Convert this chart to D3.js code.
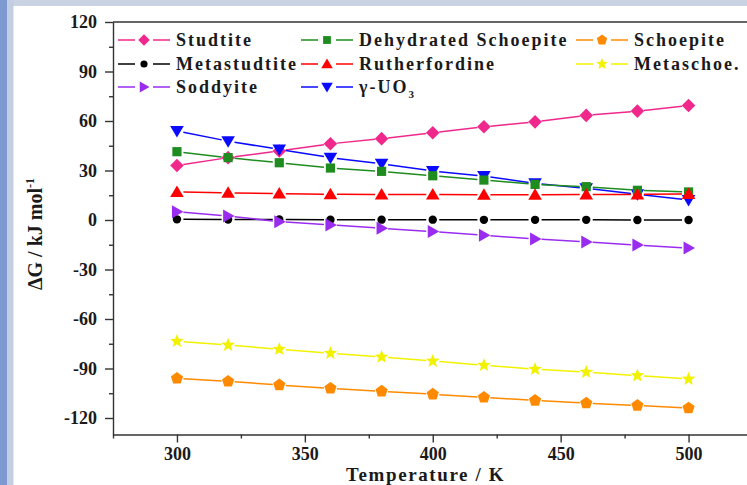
<!DOCTYPE html>
<html>
<head>
<meta charset="utf-8">
<script src="https://cdn.jsdelivr.net/npm/d3@7"></script>
<style>
  html, body { margin: 0; padding: 0; background: #fff; }
  svg { display: block; }
  text { font-family: "Liberation Serif", "Times New Roman", serif; font-weight: bold; fill: #1a1a1a; }
</style>
</head>
<body>
<svg id="chart" width="747" height="485"></svg>
<script>
// Temperatures (K) at which ΔG was evaluated
const temps = [300, 320, 340, 360, 380, 400, 420, 440, 460, 480, 500];

// ΔG (kJ/mol) for each phase
const studtite      = [33, 37.8, 41.8, 46.2, 49.3, 52.9, 56.5, 59.5, 63.4, 66, 69.4];
const dehydSchoep   = [41.4, 37.8, 34.7, 31.5, 29.5, 26.8, 24.2, 21.6, 20.2, 18, 17];
const schoepite     = [-96, -97.8, -100, -102, -103.8, -105.6, -107.5, -109.4, -111, -112.4, -114];
const metastudtite  = [0.4, 0.3, 0.3, 0.2, 0.2, 0.2, 0.1, 0.1, 0.1, 0, 0];
const rutherfordine = [17, 16.5, 16, 15.6, 15.5, 15.4, 15.3, 15.3, 15.4, 15.5, 15.8];
const metaschoe     = [-73.5, -75.8, -78.3, -80.7, -83, -85.5, -88, -90.4, -92.2, -94.3, -96.4];
const soddyite      = [5, 2.4, -1, -3, -5, -7, -9.3, -11.5, -13.3, -15.2, -17];
const gammaUO3      = [53.9, 47.8, 42.8, 37.8, 34.1, 29.7, 26.6, 22.2, 19.2, 15.6, 12.1];

// Axis ticks
const yTickValues = [-120, -90, -60, -30, 0, 30, 60, 90, 120];
const yTickLabels = ["-120", "-90", "-60", "-30", "0", "30", "60", "90", "120"];
const yMinorTicks = [-105, -75, -45, -15, 15, 45, 75, 105];
const xTickValues = [300, 350, 400, 450, 500];
const xTickLabels = ["300", "350", "400", "450", "500"];
const xMinorTicks = [275, 325, 375, 425, 475];

// Series names, in legend reading order (row by row)
const seriesNames = ["Studtite", "Dehydrated Schoepite", "Schoepite",
                     "Metastudtite", "Rutherfordine", "Metaschoe.",
                     "Soddyite", "γ-UO3"];
const seriesValues = [studtite, dehydSchoep, schoepite,
                      metastudtite, rutherfordine, metaschoe,
                      soddyite, gammaUO3];
const seriesColors = ["#f0288c", "#1e8c1e", "#ff8a00",
                      "#000000", "#ff0000", "#f2f200",
                      "#9a2cf0", "#0a0aff"];
const seriesShapes = ["diamond", "square", "pentagon",
                      "circle", "triangleUp", "star",
                      "triangleRight", "triangleDown"];
// drawing order (later ones on top)
const drawOrder = [0, 3, 6, 7, 1, 4, 2, 5];

// ---- marker shapes as custom d3.symbol types ----
function poly(ctx, pts) {
  ctx.moveTo(pts[0][0], pts[0][1]);
  for (let i = 1; i < pts.length; i++) ctx.lineTo(pts[i][0], pts[i][1]);
  ctx.closePath();
}
const shapeTypes = {
  diamond:      { draw(ctx) { const r = 6.8; poly(ctx, [[0,-r],[r,0],[0,r],[-r,0]]); } },
  square:       { draw(ctx) { const h = 4.6; poly(ctx, [[-h,-h],[h,-h],[h,h],[-h,h]]); } },
  circle:       { draw(ctx) { const r = 4.2; ctx.moveTo(r, 0); ctx.arc(0, 0, r, 0, 2 * Math.PI); } },
  triangleUp:   { draw(ctx) { poly(ctx, [[0,-6.5],[6.8,5],[-6.8,5]]); } },
  triangleDown: { draw(ctx) { poly(ctx, [[0,6.5],[6.8,-5],[-6.8,-5]]); } },
  triangleRight:{ draw(ctx) { poly(ctx, [[6.5,0],[-5,-6.5],[-5,6.5]]); } },
  star: { draw(ctx) {
    const R = 7.2, r = 3.1, pts = [];
    for (let i = 0; i < 10; i++) {
      const a = -Math.PI / 2 + i * Math.PI / 5, rr = i % 2 ? r : R;
      pts.push([rr * Math.cos(a), rr * Math.sin(a)]);
    }
    poly(ctx, pts);
  } },
  pentagon: { draw(ctx) {
    const R = 6.4, pts = [];
    for (let i = 0; i < 5; i++) {
      const a = -Math.PI / 2 + i * 2 * Math.PI / 5;
      pts.push([R * Math.cos(a), R * Math.sin(a)]);
    }
    poly(ctx, pts);
  } }
};
const symbolPath = name => d3.symbol().type(shapeTypes[name])();

// ---- layout ----
const svg = d3.select("#chart");
const W = 747, H = 485;
const plotLeft = 113, plotTop = 22, plotBottom = 434.5, plotRight = 752.5;

// page frame strips
svg.append("rect").attr("x", 0).attr("y", 0).attr("width", W).attr("height", H).attr("fill", "#fff");
svg.append("rect").attr("x", 0).attr("y", 0).attr("width", W).attr("height", 6).attr("fill", "#c9d3e4");
svg.append("rect").attr("x", 0).attr("y", 0).attr("width", 13.5).attr("height", H).attr("fill", "#c3cee2");
svg.append("rect").attr("x", 0).attr("y", 0).attr("width", 7).attr("height", H).attr("fill", "#7d99cf");

const x = d3.scaleLinear().domain([275, 525]).range([plotLeft, plotRight]);
const y = d3.scaleLinear().domain([-130, 120]).range([plotBottom, plotTop]);

// ---- axes ----
const axisColor = "#333";
function styleAxis(g) {
  g.select(".domain").attr("stroke", axisColor).attr("stroke-width", 1.4);
  g.selectAll(".tick line").attr("stroke", axisColor).attr("stroke-width", 1.4);
  g.selectAll(".tick text").attr("font-size", 18).attr("fill", "#1a1a1a")
    .attr("font-family", "Liberation Serif, Times New Roman, serif").attr("font-weight", "bold");
}

const gy = svg.append("g").attr("transform", `translate(${plotLeft},0)`)
  .call(d3.axisLeft(y).tickValues(yTickValues).tickFormat((d, i) => yTickLabels[i])
    .tickSize(8).tickPadding(8).tickSizeOuter(0));
styleAxis(gy);
const gyMinor = svg.append("g").attr("transform", `translate(${plotLeft},0)`)
  .call(d3.axisLeft(y).tickValues(yMinorTicks).tickFormat("").tickSize(4).tickSizeOuter(0));
styleAxis(gyMinor);
gyMinor.select(".domain").remove();

const gx = svg.append("g").attr("transform", `translate(0,${plotBottom})`)
  .call(d3.axisBottom(x).tickValues(xTickValues).tickFormat((d, i) => xTickLabels[i])
    .tickSize(8).tickPadding(5).tickSizeOuter(0));
styleAxis(gx);
const gxMinor = svg.append("g").attr("transform", `translate(0,${plotBottom})`)
  .call(d3.axisBottom(x).tickValues(xMinorTicks).tickFormat("").tickSize(4).tickSizeOuter(0));
styleAxis(gxMinor);
gxMinor.select(".domain").remove();

// top frame line
svg.append("line").attr("x1", plotLeft).attr("x2", plotRight)
  .attr("y1", plotTop).attr("y2", plotTop)
  .attr("stroke", axisColor).attr("stroke-width", 1.4);

// axis titles
svg.append("text").attr("x", 346).attr("y", 480.8)
  .attr("font-size", 19).attr("letter-spacing", 1.6)
  .text("Temperature / K");

const yTitle = svg.append("text")
  .attr("transform", "translate(42,234) rotate(-90)")
  .attr("text-anchor", "middle").attr("font-size", 20);
yTitle.append("tspan").text("ΔG / kJ mol");
yTitle.append("tspan").attr("dy", -8).attr("font-size", 12).text("-1");

// ---- series: lines with small gaps at the markers, then markers ----
const gap = 6.5;
const plot = svg.append("g");
drawOrder.forEach(si => {
  const vals = seriesValues[si];
  const color = seriesColors[si];
  const g = plot.append("g");
  const pts = temps.map((t, i) => [x(t), y(vals[i])]);
  const segs = d3.pairs(pts).map(([a, b]) => {
    const dx = b[0] - a[0], dy = b[1] - a[1], L = Math.hypot(dx, dy);
    const ux = dx / L, uy = dy / L;
    return [a[0] + ux * gap, a[1] + uy * gap, b[0] - ux * gap, b[1] - uy * gap];
  });
  g.selectAll("line").data(segs).join("line")
    .attr("x1", d => d[0]).attr("y1", d => d[1])
    .attr("x2", d => d[2]).attr("y2", d => d[3])
    .attr("stroke", color).attr("stroke-width", 1.5);
  g.selectAll("path").data(temps).join("path")
    .attr("d", symbolPath(seriesShapes[si]))
    .attr("transform", (t, i) => `translate(${x(t)},${y(vals[i])})`)
    .attr("fill", color);
});

// ---- legend: 3 columns x 3 rows ----
const legendCols = [118, 301, 576];
const legendRows = [46, 70, 93];
const legend = svg.append("g");
seriesNames.forEach((name, i) => {
  const cx = legendCols[i % 3], by = legendRows[Math.floor(i / 3)];
  const my = by - 6;
  const color = seriesColors[i];
  const item = legend.append("g");
  item.append("line").attr("x1", cx).attr("x2", cx + 17).attr("y1", my).attr("y2", my)
    .attr("stroke", color).attr("stroke-width", 1.5);
  item.append("line").attr("x1", cx + 35).attr("x2", cx + 52).attr("y1", my).attr("y2", my)
    .attr("stroke", color).attr("stroke-width", 1.5);
  item.append("path").attr("d", symbolPath(seriesShapes[i]))
    .attr("transform", `translate(${cx + 26},${my}) scale(0.85)`).attr("fill", color);
  const t = item.append("text").attr("x", cx + 58).attr("y", by)
    .attr("font-size", 18).attr("letter-spacing", 2);
  if (name === "γ-UO3") {
    t.append("tspan").text("γ-UO");
    t.append("tspan").attr("dy", 5).attr("font-size", 11).text("3");
  } else {
    t.text(name);
  }
});
</script>
</body>
</html>
